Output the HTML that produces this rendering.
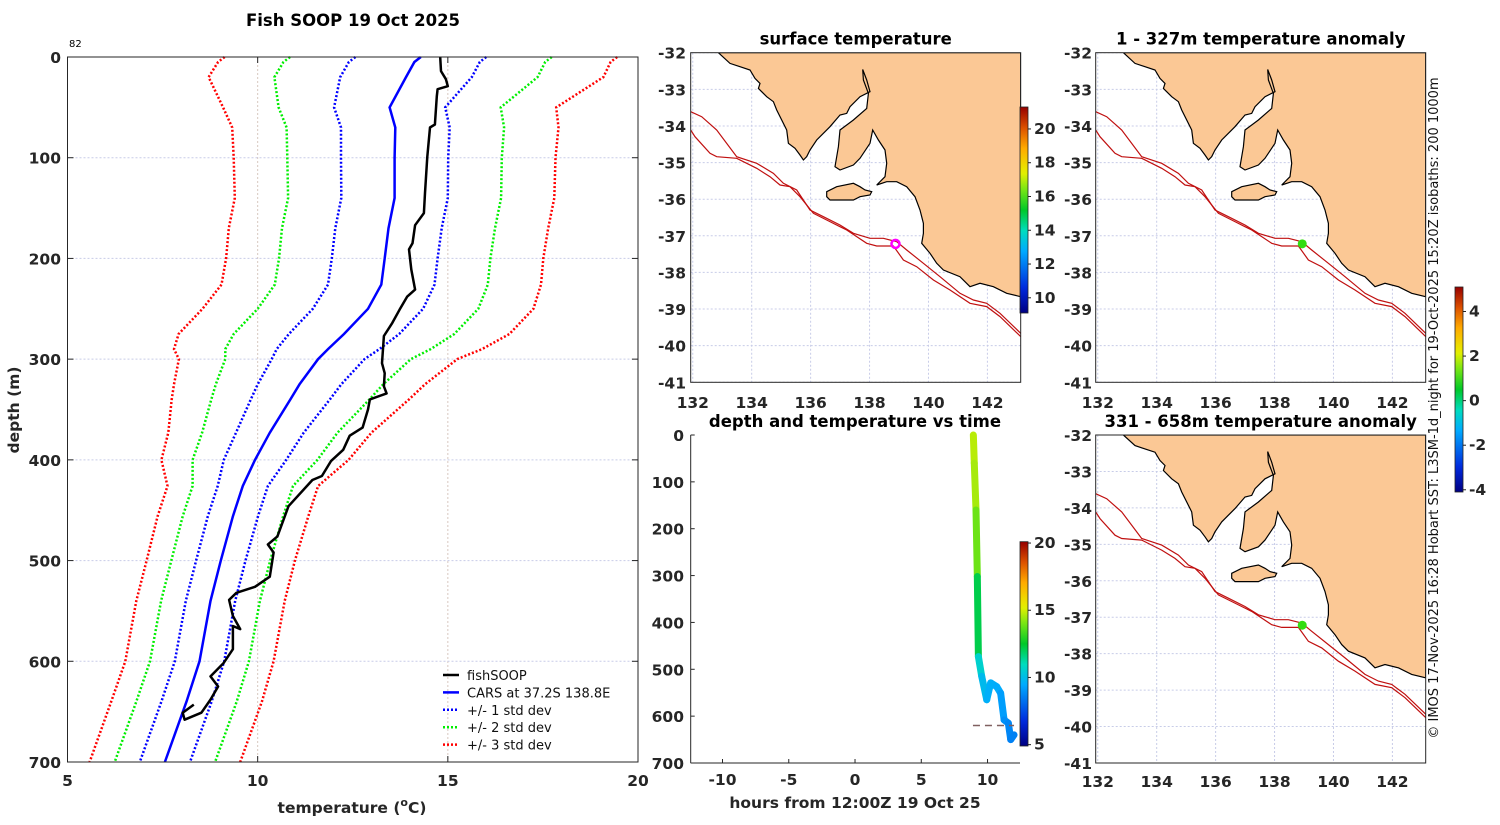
<!DOCTYPE html>
<html><head><meta charset="utf-8"><style>
html,body{margin:0;padding:0;background:#fff;}
svg text{font-family:"DejaVu Sans","Liberation Sans",sans-serif;}
.tk{font-size:15.5px;font-weight:bold;fill:#262626;}
.ttl{font-size:16.5px;font-weight:bold;fill:#000;}
</style></head><body>
<svg id="fig" width="1500" height="820" xmlns="http://www.w3.org/2000/svg"></svg>
<script>
// ---------- profile chart data ----------
const carsDepth=[0,5,20,50,70,100,140,170,200,226,250,275,290,300,325,340,373,400,426,456,500,540,600,640,700];
const carsMean=[14.29,14.12,13.9,13.47,13.62,13.6,13.6,13.44,13.34,13.25,12.9,12.27,11.85,11.59,11.1,10.86,10.32,9.93,9.61,9.35,9.03,8.76,8.47,8.13,7.56];
const carsStd=[1.72,1.72,1.73,1.46,1.43,1.41,1.40,1.40,1.39,1.40,1.45,1.45,1.35,1.22,1.10,1.04,0.89,0.82,0.66,0.66,0.65,0.65,0.65,0.66,0.66];
const fishDepth=[0,14,22,29,32,39,67,70,99,135,155,167,185,191,211,231,238,251,264,277,304,314,327,334,340,350,368,376,390,401,416,420,446,476,484,492,516,526,532,539,555,568,565,588,602,615,625,638,651,658,651,643];
const fishTemp=[14.8,14.82,14.95,15.0,14.73,14.71,14.66,14.53,14.46,14.4,14.37,14.14,14.07,13.98,14.04,14.14,13.93,13.73,13.54,13.32,13.27,13.34,13.32,13.39,12.95,12.9,12.76,12.42,12.25,11.93,11.69,11.44,10.81,10.52,10.27,10.42,10.32,9.93,9.44,9.25,9.35,9.54,9.35,9.35,9.1,8.76,8.96,8.76,8.52,8.08,8.03,8.32];
const tempTicks=[5,10,15,20];
const depthTicks=[0,100,200,300,400,500,600,700];
// ---------- time series data ----------
const tsHours=[8.93,9.0,9.13,9.23,9.31,9.56,9.94,10.24,10.69,10.99,11.25,11.57,11.75,12.0];
const tsDepth=[0,60,160,302,473,515,565,529,537,551,608,615,650,640];
const tsTemp=[14.8,14.6,14.4,13.3,11.0,10.3,9.6,9.7,9.6,9.5,9.0,8.9,8.6,8.7];
const hourTicks=[-10,-5,0,5,10];
const mldDepth=620;
// ---------- map data ----------
const lonTicks=[132,134,136,138,140,142];
const latTicks=[-32,-33,-34,-35,-36,-37,-38,-39,-40,-41];
const stationLon=138.88, stationLat=-37.22;
const sstTicks=[10,12,14,16,18,20];
const anomTicks=[-4,-2,0,2,4];
const cbTimeTicks=[5,10,15,20];

const S=document.getElementById('fig');
const NS='http://www.w3.org/2000/svg';
function el(tag,attrs,parent){const e=document.createElementNS(NS,tag);for(const k in attrs)e.setAttribute(k,attrs[k]);(parent||S).appendChild(e);return e;}
function txt(s,x,y,cls,anchor,parent,extra){const t=el('text',Object.assign({x:x,y:y,class:cls,'text-anchor':anchor||'middle'},extra||{}),parent);t.textContent=s;return t;}
// colormap resembling reference (navy-blue-cyan-green-yellow-orange-darkred)
const cmapStops=[[0,[0,0,130]],[0.12,[0,40,220]],[0.3,[0,170,255]],[0.4,[0,220,190]],[0.5,[0,200,40]],[0.6,[120,230,20]],[0.68,[230,240,0]],[0.8,[255,170,0]],[0.9,[220,80,0]],[1,[150,0,0]]];
function jet(t){t=Math.max(0,Math.min(1,t));for(let i=1;i<cmapStops.length;i++){const a=cmapStops[i-1],b=cmapStops[i];if(t<=b[0]){const f=(t-a[0])/(b[0]-a[0]);const c=a[1].map((v,k)=>Math.round(v+(b[1][k]-v)*f));return `rgb(${c[0]},${c[1]},${c[2]})`;}}return 'rgb(150,0,0)';}

const defs=el('defs',{});
const grad=el('linearGradient',{id:'jetg',x1:0,y1:1,x2:0,y2:0},defs);
for(let i=0;i<=40;i++){el('stop',{offset:i/40,'stop-color':jet(i/40)},grad);}

// ================= PROFILE =================
const P={x0:67.5,x1:638,y0:57,y1:762};
const px=T=>P.x0+(T-5)/15*(P.x1-P.x0);
const py=d=>P.y0+d/700*(P.y1-P.y0);
const gP=el('g',{});


txt('Fish SOOP 19 Oct 2025',353,26,'ttl','middle',gP);
const t82=txt('82',69,47,'','start',gP,{'font-size':'10'});

tempTicks.forEach(T=>{if(T>5&&T<20)el('line',{x1:px(T),x2:px(T),y1:P.y0,y2:P.y1,stroke:'#d8c8c0','stroke-dasharray':'2,2','stroke-width':1},gP);});
depthTicks.forEach(d=>{if(d>0&&d<700)el('line',{x1:P.x0,x2:P.x1,y1:py(d),y2:py(d),stroke:'#c8cce8','stroke-dasharray':'2,2','stroke-width':1},gP);});
function lineFrom(Ts,Ds){return Ts.map((T,i)=>px(T).toFixed(1)+','+py(Ds[i]).toFixed(1)).join(' ');}
const stdCols=['#0000ff','#00ee00','#ff0000'];
[3,2,1].forEach(k=>{[-1,1].forEach(s=>{
  const pl=el('polyline',{points:lineFrom(carsMean.map((m,i)=>m+s*k*carsStd[i]),carsDepth),fill:'none',stroke:stdCols[k-1],'stroke-width':2.5,'stroke-dasharray':'2,2'},gP);
  
  
});});
const cars=el('polyline',{points:lineFrom(carsMean,carsDepth),fill:'none',stroke:'#0000ff','stroke-width':2.5},gP);


const fish=el('polyline',{points:lineFrom(fishTemp,fishDepth),fill:'none',stroke:'#000','stroke-width':2.5,'stroke-linejoin':'round'},gP);


el('rect',{x:P.x0,y:P.y0,width:P.x1-P.x0,height:P.y1-P.y0,fill:'none',stroke:'#262626','stroke-width':1},gP);
depthTicks.forEach(d=>{el('line',{x1:P.x0,x2:P.x0+6,y1:py(d),y2:py(d),stroke:'#262626'},gP);el('line',{x1:P.x1,x2:P.x1-6,y1:py(d),y2:py(d),stroke:'#262626'},gP);txt(String(d),61,py(d)+6,'tk','end',gP);});
tempTicks.forEach(T=>{el('line',{x1:px(T),x2:px(T),y1:P.y0,y2:P.y0+6,stroke:'#262626'},gP);el('line',{x1:px(T),x2:px(T),y1:P.y1,y2:P.y1-6,stroke:'#262626'},gP);txt(String(T),px(T),786,'tk','middle',gP);});
const xl=el('text',{x:352,y:813,class:'tk','text-anchor':'middle','font-size':'17'},gP);

xl.innerHTML='temperature (<tspan dy="-7" font-size="11">o</tspan><tspan dy="7">C)</tspan>';
const yl=txt('depth (m)',19,410,'tk','middle',gP,{transform:'rotate(-90 19 410)','font-size':'17'});

const leg=[['fishSOOP','#000',''],['CARS at 37.2S 138.8E','#0000ff',''],['+/- 1 std dev','#0000ff','2,2'],['+/- 2 std dev','#00ee00','2,2'],['+/- 3 std dev','#ff0000','2,2']];
leg.forEach((L,i)=>{const y=675+i*17.4;const g=el('g',{},gP);
  
  
  el('line',{x1:443,x2:459,y1:y,y2:y,stroke:L[1],'stroke-width':2.5,'stroke-dasharray':L[2]||'none'},g);
  txt(L[0],467,y+5,'','start',g,{'font-size':'13','fill':'#111'});});

// ================= TIME PANEL =================
const Tm={x0:690.7,x1:1020,y0:435,y1:763,h0:-12.4,h1:12.45};
const tx=h=>Tm.x0+(h-Tm.h0)/(Tm.h1-Tm.h0)*(Tm.x1-Tm.x0);
const ty=d=>Tm.y0+d/700*(Tm.y1-Tm.y0);
const gT=el('g',{});


txt('depth and temperature vs time',855,427,'ttl','middle',gT);
for(let i=0;i<tsHours.length-1;i++){
  const seg=el('line',{x1:tx(tsHours[i]),y1:ty(tsDepth[i]),x2:tx(tsHours[i+1]),y2:ty(tsDepth[i+1]),stroke:jet(((tsTemp[i]+tsTemp[i+1])/2-5)/15),'stroke-width':7,'stroke-linecap':'round'},gT);
  
  
}
el('line',{x1:tx(8.9),x2:tx(12.0),y1:ty(mldDepth),y2:ty(mldDepth),stroke:'#806060','stroke-width':1.5,'stroke-dasharray':'7,5'},gT);
el('line',{x1:Tm.x0,x2:Tm.x0,y1:Tm.y0,y2:Tm.y1,stroke:'#262626'},gT);
el('line',{x1:Tm.x0,x2:Tm.x1,y1:Tm.y1,y2:Tm.y1,stroke:'#262626'},gT);
depthTicks.forEach(d=>{el('line',{x1:Tm.x0,x2:Tm.x0+4,y1:ty(d),y2:ty(d),stroke:'#262626'},gT);txt(String(d),684,ty(d)+6,'tk','end',gT);});
hourTicks.forEach(h=>{el('line',{x1:tx(h),x2:tx(h),y1:Tm.y1,y2:Tm.y1-4,stroke:'#262626'},gT);txt(String(h),tx(h),785,'tk','middle',gT);});
txt('hours from 12:00Z 19 Oct 25',855,808,'tk','middle',gT,{'font-size':'17'});
function colorbar(x,y0,y1,w,vmin,vmax,ticks,parent,name){
  const g=el('g',{},parent);
  
  
  el('rect',{x:x,y:y0,width:w,height:y1-y0,fill:'url(#jetg)',stroke:'#222','stroke-width':0.8},g);
  ticks.forEach(v=>{const y=y1-(v-vmin)/(vmax-vmin)*(y1-y0);el('line',{x1:x+w,x2:x+w+3,y1:y,y2:y,stroke:'#222'},g);txt(String(v),x+w+6,y+5,'tk','start',g,{'font-size':'13'});});
}
colorbar(1020,541.7,746,8,4.9,20.1,cbTimeTicks,gT,'time-colorbar');

// ================= MAPS =================
const LON0=131.93,LON1=143.13,LAT0=-32,LAT1=-41;
const zl=(zx,zy)=>[LON0+(zx-152)/990*(LON1-LON0),LAT0-(zy-68)/989*9];
const landZ=[[235,68],[270,100],[300,110],[330,120],[345,145],[360,160],[355,175],[380,200],[400,215],[410,240],[440,300],[445,340],[465,355],[480,375],[490,390],[500,380],[510,360],[530,330],[570,290],[600,255],[620,250],[630,230],[660,200],[690,185],[680,150],[668,118],[670,150],[685,190],[680,235],[640,270],[600,300],[595,350],[585,410],[600,420],[640,405],[660,385],[690,340],[698,300],[715,330],[735,360],[740,400],[735,440],[710,465],[740,455],[770,455],[800,470],[825,500],[840,540],[850,580],[850,610],[845,640],[870,670],[890,700],[910,720],[960,740],[990,770],[1020,760],[1060,770],[1100,790],[1142,800],[1142,68]];
const kiZ=[[560,485],[590,470],[640,460],[660,470],[675,480],[695,485],[690,495],[660,500],[640,510],[600,510],[570,510],[560,500]];
const iso200Z=[[152,245],[185,260],[230,300],[290,380],[350,400],[400,430],[430,460],[470,480],[510,540],[550,560],[600,585],[640,610],[690,625],[730,625],[770,635],[800,660],[850,700],[900,740],[960,790],[1000,810],[1040,820],[1080,850],[1142,910]];
const iso1000Z=[[152,300],[165,320],[210,370],[230,380],[290,385],[350,415],[390,440],[420,465],[450,470],[480,500],[520,550],[560,570],[600,590],[620,600],[680,640],[710,648],[760,648],[790,690],[830,710],[880,750],[930,780],[990,820],[1040,830],[1080,860],[1142,920]];
function drawMap(A,title,name,marker,labelX,tickY){
  const g=el('g',{});
  
  
  const mx=lon=>A.x0+(lon-LON0)/(LON1-LON0)*(A.x1-A.x0);
  const my=lat=>A.y0+(lat-LAT0)/(LAT1-LAT0)*(A.y1-A.y0);
  const pts=arr=>arr.map(p=>{const q=zl(p[0],p[1]);return mx(q[0]).toFixed(1)+','+my(q[1]).toFixed(1);}).join(' ');
  const cid='clip'+name;
  const cp=el('clipPath',{id:cid},defs);el('rect',{x:A.x0,y:A.y0,width:A.x1-A.x0,height:A.y1-A.y0},cp);
  const inner=el('g',{'clip-path':'url(#'+cid+')'},g);
  lonTicks.forEach(l=>el('line',{x1:mx(l),x2:mx(l),y1:A.y0,y2:A.y1,stroke:'#c8cce8','stroke-dasharray':'2,2'},inner));
  latTicks.forEach(l=>el('line',{x1:A.x0,x2:A.x1,y1:my(l),y2:my(l),stroke:'#c8cce8','stroke-dasharray':'2,2'},inner));
  const land=el('polygon',{points:pts(landZ),fill:'#fbc895',stroke:'#000','stroke-width':1.2},inner);
  
  
  el('polygon',{points:pts(kiZ),fill:'#fbc895',stroke:'#000','stroke-width':1.2},inner);
  el('polyline',{points:pts(iso200Z),fill:'none',stroke:'#c01010','stroke-width':1.2},inner);
  el('polyline',{points:pts(iso1000Z),fill:'none',stroke:'#c01010','stroke-width':1.2},inner);
  if(marker==='ring'){const m=el('circle',{cx:mx(stationLon),cy:my(stationLat),r:4,fill:'none',stroke:'#ff00ff','stroke-width':2.5},g);}
  else{const m=el('circle',{cx:mx(stationLon+0.06),cy:my(stationLat),r:4.5,fill:'#33dd11'},g);}
  el('rect',{x:A.x0,y:A.y0,width:A.x1-A.x0,height:A.y1-A.y0,fill:'none',stroke:'#262626','stroke-width':1},g);
  latTicks.forEach(l=>txt(String(l),labelX,my(l)+6,'tk','end',g));
  lonTicks.forEach(l=>txt(String(l),mx(l),tickY,'tk','middle',g));
  txt(title,(A.x0+A.x1)/2,A.y0-8,'ttl','middle',g);
  return g;
}
drawMap({x0:690.7,x1:1020.7,y0:52.7,y1:382.3},'surface temperature','surface-temperature-map','ring',686,408);
drawMap({x0:1095.7,x1:1425.7,y0:52.7,y1:382.3},'1 - 327m temperature anomaly','anomaly-map-upper','dot',1092,408);
drawMap({x0:1095.7,x1:1425.7,y0:435,y1:763},'331 - 658m temperature anomaly','anomaly-map-lower','dot',1092,787);
colorbar(1020,107,313,8,9.1,21.3,sstTicks,S,'sst-colorbar');
colorbar(1455,287,492,8,-4.1,5.1,anomTicks,S,'anomaly-colorbar');
const cr=txt('© IMOS 17-Nov-2025 16:28 Hobart SST: L3SM-1d_night for 19-Oct-2025 15:20Z isobaths: 200  1000m',1438,408,'','middle',S,{transform:'rotate(-90 1438 408)','font-size':'13','fill':'#111'});


</script>
</body></html>
